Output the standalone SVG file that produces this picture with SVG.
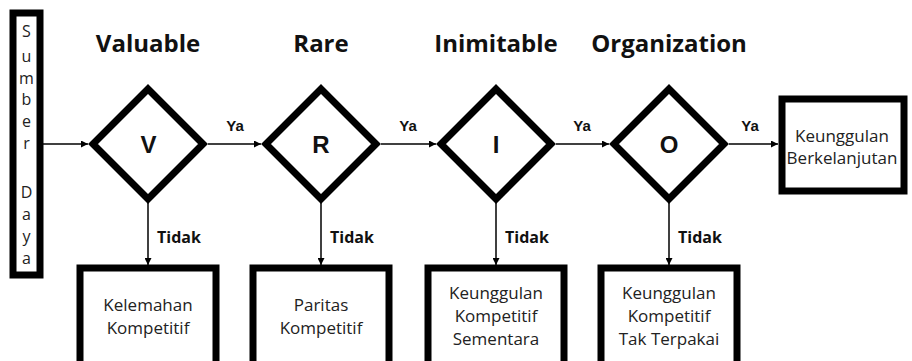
<svg xmlns="http://www.w3.org/2000/svg" width="912" height="361" viewBox="0 0 912 361">
  <defs>
    <marker id="arrow" viewBox="0 0 10 10" refX="10" refY="5" markerWidth="7" markerHeight="7" markerUnits="userSpaceOnUse" orient="auto">
      <path d="M0,0 L10,5 L0,10 z" fill="#000"/>
    </marker>
    <style>
      .frame { fill: #fff; stroke: #000; stroke-width: 7; stroke-linejoin: miter; }
      .link { fill: none; stroke: #000; stroke-width: 1.5; marker-end: url(#arrow); }
      .title { font-family: "Open Sans", "Liberation Sans", sans-serif; font-weight: 700; font-size: 24px; fill: #111; text-anchor: middle; }
      .letter { font-family: "Liberation Sans", Arial, sans-serif; font-weight: 700; font-size: 24px; fill: #111; text-anchor: middle; }
      .ya { font-family: "Liberation Sans", Arial, sans-serif; font-weight: 700; font-size: 15px; fill: #111; text-anchor: middle; }
      .tidak { font-family: "Open Sans", "Liberation Sans", sans-serif; font-weight: 700; font-size: 16px; fill: #111; }
      .body { font-family: "Open Sans", "Liberation Sans", sans-serif; font-size: 17px; fill: #222; text-anchor: middle; }
      .side { font-family: "Open Sans", "Liberation Sans", sans-serif; font-size: 16px; fill: #222; text-anchor: middle; }
    </style>
  </defs>
  <rect width="912" height="361" fill="#fff"/>

  <!-- column headings -->
  <g id="headings">
    <text class="title" x="148" y="52">Valuable</text>
    <text class="title" x="321" y="52">Rare</text>
    <text class="title" x="496" y="52">Inimitable</text>
    <text class="title" x="669" y="52">Organization</text>
  </g>

  <!-- connectors -->
  <g id="connectors">
    <line class="link" x1="42" y1="144" x2="88" y2="144"/>
    <line class="link" x1="208" y1="144" x2="261" y2="144"/>
    <line class="link" x1="381" y1="144" x2="436" y2="144"/>
    <line class="link" x1="556" y1="144" x2="609" y2="144"/>
    <line class="link" x1="729" y1="144" x2="778" y2="144"/>
    <line class="link" x1="148" y1="203" x2="148" y2="265"/>
    <line class="link" x1="321" y1="203" x2="321" y2="265"/>
    <line class="link" x1="496" y1="203" x2="496" y2="265"/>
    <line class="link" x1="669" y1="203" x2="669" y2="265"/>
    <text class="ya" x="235" y="131">Ya</text>
    <text class="ya" x="408" y="131">Ya</text>
    <text class="ya" x="582" y="131">Ya</text>
    <text class="ya" x="750" y="131">Ya</text>
    <text class="tidak" x="157" y="243">Tidak</text>
    <text class="tidak" x="330" y="243">Tidak</text>
    <text class="tidak" x="505" y="243">Tidak</text>
    <text class="tidak" x="678" y="243">Tidak</text>
  </g>

  <!-- vertical source bar -->
  <g id="sumber-daya">
    <rect class="frame" x="13" y="13" width="27" height="262" stroke-width="6"/>
    <text class="side" x="26.5" y="37">S</text>
    <text class="side" x="26.5" y="62">u</text>
    <text class="side" x="26.5" y="84">m</text>
    <text class="side" x="26.5" y="105">b</text>
    <text class="side" x="26.5" y="127">e</text>
    <text class="side" x="26.5" y="149">r</text>
    <text class="side" x="26.5" y="198">D</text>
    <text class="side" x="26.5" y="220">a</text>
    <text class="side" x="26.5" y="242">y</text>
    <text class="side" x="26.5" y="264">a</text>
  </g>

  <!-- decision diamonds -->
  <g id="node-v">
    <polygon class="frame" points="148,89 203,144 148,199 93,144"/>
    <text class="letter" x="148.5" y="153">V</text>
  </g>
  <g id="node-r">
    <polygon class="frame" points="321,89 376,144 321,199 266,144"/>
    <text class="letter" x="321" y="153">R</text>
  </g>
  <g id="node-i">
    <polygon class="frame" points="496,89 551,144 496,199 441,144"/>
    <text class="letter" x="496" y="153">I</text>
  </g>
  <g id="node-o">
    <polygon class="frame" points="669,89 724,144 669,199 614,144"/>
    <text class="letter" x="669" y="153">O</text>
  </g>

  <!-- outcome boxes -->
  <g id="box-sustained">
    <rect class="frame" x="782" y="99" width="122" height="92" stroke-width="8"/>
    <text class="body" x="842" y="142">Keunggulan</text>
    <text class="body" x="842" y="164">Berkelanjutan</text>
  </g>
  <g id="box-weakness">
    <rect class="frame" x="80" y="268" width="136" height="120"/>
    <text class="body" x="148" y="311">Kelemahan</text>
    <text class="body" x="148" y="334">Kompetitif</text>
  </g>
  <g id="box-parity">
    <rect class="frame" x="253" y="268" width="136" height="120"/>
    <text class="body" x="321" y="311">Paritas</text>
    <text class="body" x="321" y="334">Kompetitif</text>
  </g>
  <g id="box-temporary">
    <rect class="frame" x="428" y="268" width="136" height="120"/>
    <text class="body" x="496" y="299">Keunggulan</text>
    <text class="body" x="496" y="322">Kompetitif</text>
    <text class="body" x="496" y="345">Sementara</text>
  </g>
  <g id="box-unused">
    <rect class="frame" x="601" y="268" width="136" height="120"/>
    <text class="body" x="669" y="299">Keunggulan</text>
    <text class="body" x="669" y="322">Kompetitif</text>
    <text class="body" x="669" y="345">Tak Terpakai</text>
  </g>
</svg>
